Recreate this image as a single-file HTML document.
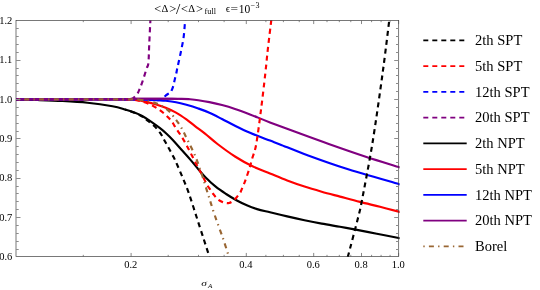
<!DOCTYPE html>
<html><head><meta charset="utf-8"><title>plot</title>
<style>html,body{margin:0;padding:0;background:#fff;}svg{display:block;font-family:"Liberation Serif",serif;will-change:transform;}</style></head>
<body>
<svg width="540" height="290" viewBox="0 0 540 290">
<rect width="540" height="290" fill="#fff"/>
<defs><clipPath id="c"><rect x="15.50" y="20.25" width="384.10" height="236.70"/></clipPath></defs>
<g clip-path="url(#c)" fill="none" stroke-width="2.15" stroke-linejoin="round">
<path d="M16.00 99.60 C19.58 99.67 29.75 99.78 37.50 100.00 C45.25 100.22 54.17 100.45 62.50 100.90 C70.83 101.35 79.17 101.80 87.50 102.70 C95.83 103.60 106.25 105.17 112.50 106.30 C118.75 107.43 121.25 108.42 125.00 109.50 C128.75 110.58 132.13 111.72 135.00 112.80 C137.87 113.88 139.53 114.53 142.20 116.00 C144.87 117.47 148.03 119.57 151.00 121.60 C153.97 123.63 157.50 126.25 160.00 128.20 C162.50 130.15 163.87 131.33 166.00 133.30 C168.13 135.27 170.22 137.25 172.80 140.00 C175.38 142.75 178.58 146.53 181.50 149.80 C184.42 153.07 187.45 156.32 190.30 159.60 C193.15 162.88 196.08 166.57 198.60 169.50 C201.12 172.43 202.55 174.33 205.40 177.20 C208.25 180.07 212.25 183.90 215.70 186.70 C219.15 189.50 222.65 191.75 226.10 194.00 C229.55 196.25 232.95 198.33 236.40 200.20 C239.85 202.07 243.35 203.72 246.80 205.20 C250.25 206.68 253.23 207.92 257.10 209.10 C260.97 210.28 264.98 211.08 270.00 212.30 C275.02 213.52 281.45 215.08 287.20 216.40 C292.95 217.72 298.75 219.00 304.50 220.20 C310.25 221.40 315.78 222.50 321.70 223.60 C327.62 224.70 334.55 225.83 340.00 226.80 C345.45 227.77 348.27 228.25 354.40 229.40 C360.53 230.55 369.42 232.27 376.80 233.70 C384.18 235.13 394.80 237.23 398.70 238.00 C402.60 238.77 399.95 238.25 400.20 238.30" stroke="#000"/>
<path d="M16.00 99.35 C33.33 99.35 100.17 99.27 120.00 99.35 C139.83 99.42 130.83 99.42 135.00 99.80 C139.17 100.17 141.62 100.87 145.00 101.60 C148.38 102.33 151.85 103.17 155.30 104.20 C158.75 105.23 162.25 106.40 165.70 107.80 C169.15 109.20 172.55 110.67 176.00 112.60 C179.45 114.53 183.23 117.15 186.40 119.40 C189.57 121.65 191.90 123.73 195.00 126.10 C198.10 128.47 201.25 130.62 205.00 133.60 C208.75 136.58 212.50 140.18 217.50 144.00 C222.50 147.82 229.17 152.78 235.00 156.50 C240.83 160.22 246.67 163.47 252.50 166.30 C258.33 169.13 264.22 171.13 270.00 173.50 C275.78 175.87 281.45 178.32 287.20 180.50 C292.95 182.68 298.75 184.73 304.50 186.60 C310.25 188.47 315.78 190.03 321.70 191.70 C327.62 193.37 333.62 194.90 340.00 196.60 C346.38 198.30 353.33 200.20 360.00 201.90 C366.67 203.60 373.55 205.18 380.00 206.80 C386.45 208.42 395.33 210.74 398.70 211.60 C402.07 212.46 399.95 211.89 400.20 211.95" stroke="#ff0000"/>
<path d="M16.00 99.35 C34.67 99.35 107.33 99.32 128.00 99.35 C148.67 99.38 136.33 99.46 140.00 99.55 C143.67 99.64 147.00 99.78 150.00 99.90 C153.00 100.03 155.38 100.16 158.00 100.30 C160.62 100.44 162.70 100.43 165.70 100.75 C168.70 101.07 172.55 101.53 176.00 102.20 C179.45 102.88 182.68 103.75 186.40 104.80 C190.12 105.85 194.47 107.18 198.30 108.50 C202.13 109.82 205.45 110.95 209.40 112.70 C213.35 114.45 217.73 116.82 222.00 119.00 C226.27 121.18 230.33 123.50 235.00 125.80 C239.67 128.10 244.17 130.33 250.00 132.80 C255.83 135.27 265.00 138.67 270.00 140.60 C275.00 142.53 273.75 141.96 280.00 144.40 C286.25 146.84 296.67 151.28 307.50 155.25 C318.33 159.22 329.80 163.46 345.00 168.25 C360.20 173.04 389.50 181.31 398.70 184.00 C407.90 186.69 399.95 184.33 400.20 184.40" stroke="#0000ff"/>
<path d="M16.00 99.35 C33.33 99.35 100.00 99.44 120.00 99.35 C140.00 99.26 129.33 98.90 136.00 98.80 C142.67 98.70 152.38 98.74 160.00 98.75 C167.62 98.76 176.70 98.76 181.70 98.85 C186.70 98.94 187.23 99.07 190.00 99.30 C192.77 99.53 195.07 99.73 198.30 100.20 C201.53 100.67 205.45 101.30 209.40 102.10 C213.35 102.90 217.73 103.87 222.00 105.00 C226.27 106.13 230.33 107.33 235.00 108.90 C239.67 110.47 244.17 112.15 250.00 114.40 C255.83 116.65 261.67 119.20 270.00 122.40 C278.33 125.60 290.21 130.00 300.00 133.60 C309.79 137.20 317.92 140.18 328.75 144.00 C339.58 147.82 353.34 152.67 365.00 156.50 C376.66 160.33 392.83 165.18 398.70 167.00 C404.57 168.82 399.95 167.38 400.20 167.45" stroke="#800080"/>
<path d="M125.00 109.50 C126.67 110.08 132.13 111.82 135.00 113.00 C137.87 114.18 140.20 115.42 142.20 116.60 C144.20 117.78 145.03 118.57 147.00 120.10 C148.97 121.63 151.75 123.58 154.00 125.80 C156.25 128.02 158.68 130.83 160.50 133.40 C162.32 135.97 163.47 138.63 164.90 141.20 C166.33 143.77 167.70 146.25 169.10 148.80 C170.50 151.35 171.92 153.75 173.30 156.50 C174.68 159.25 175.78 161.63 177.40 165.30 C179.02 168.97 181.11 173.88 183.00 178.50 C184.89 183.12 186.54 186.75 188.75 193.00 C190.96 199.25 193.76 208.33 196.25 216.00 C198.74 223.67 201.49 232.17 203.70 239.00 C205.91 245.83 208.53 254.00 209.50 257.00" stroke="#000" stroke-dasharray="5 4" stroke-dashoffset="3.45"/>
<path d="M347.80 257.00 C349.58 250.17 356.13 225.50 358.50 216.00 C360.87 206.50 359.70 212.00 362.00 200.00 C364.30 188.00 368.88 165.00 372.30 144.00 C375.72 123.00 379.67 94.67 382.50 74.00 C385.33 53.33 388.17 29.00 389.30 20.00" stroke="#000" stroke-dasharray="5 4" stroke-dashoffset="0.20"/>
<path d="M122.00 99.35 C122.83 99.35 124.83 99.26 127.00 99.35 C129.17 99.44 132.50 99.56 135.00 99.90 C137.50 100.24 139.55 100.68 142.00 101.40 C144.45 102.12 147.05 102.95 149.70 104.20 C152.35 105.45 155.32 107.18 157.90 108.90 C160.48 110.62 162.95 112.48 165.20 114.50 C167.45 116.52 169.60 118.70 171.40 121.00 C173.20 123.30 174.37 125.80 176.00 128.30 C177.63 130.80 179.58 133.45 181.20 136.00 C182.82 138.55 184.27 141.03 185.70 143.60 C187.13 146.17 188.42 148.73 189.80 151.40 C191.18 154.07 192.62 156.93 194.00 159.60 C195.38 162.27 196.60 164.53 198.10 167.40 C199.60 170.27 201.48 173.87 203.00 176.80 C204.52 179.73 205.98 182.85 207.20 185.00 C208.42 187.15 209.20 188.08 210.30 189.70 C211.40 191.32 212.65 193.18 213.80 194.70 C214.95 196.22 215.77 197.58 217.20 198.80 C218.63 200.02 220.93 201.30 222.40 202.00 C223.87 202.70 224.90 202.83 226.00 203.00 C227.10 203.17 227.92 203.28 229.00 203.00 C230.08 202.72 231.22 202.27 232.50 201.30 C233.78 200.33 235.37 198.73 236.70 197.20 C238.03 195.67 239.48 193.87 240.50 192.10 C241.52 190.33 242.02 188.47 242.80 186.60 C243.58 184.73 244.13 183.82 245.20 180.90 C246.27 177.98 247.98 173.00 249.20 169.10 C250.42 165.20 251.32 161.68 252.50 157.50 C253.68 153.32 254.83 151.95 256.25 144.00 C257.67 136.05 259.49 121.53 261.00 109.80 C262.51 98.07 264.17 83.65 265.30 73.60 C266.43 63.55 266.80 58.43 267.80 49.50 C268.80 40.57 270.72 24.92 271.30 20.00" stroke="#ff0000" stroke-dasharray="5 4" stroke-dashoffset="4.91"/>
<path d="M124.00 99.35 C124.67 99.35 125.33 99.32 128.00 99.35 C130.67 99.38 136.33 99.46 140.00 99.55 C143.67 99.64 147.00 99.79 150.00 99.90 C153.00 100.01 156.17 100.22 158.00 100.20 C159.83 100.18 160.17 100.07 161.00 99.80 C161.83 99.53 162.25 99.28 163.00 98.60 C163.75 97.92 164.30 96.73 165.50 95.70 C166.70 94.67 169.17 93.32 170.20 92.40 C171.23 91.48 171.18 91.28 171.70 90.20 C172.22 89.12 172.90 87.20 173.30 85.90 C173.70 84.60 173.77 83.85 174.10 82.40 C174.43 80.95 174.95 78.63 175.30 77.20 C175.65 75.77 175.88 75.23 176.20 73.80 C176.52 72.37 176.83 70.35 177.20 68.60 C177.57 66.85 177.77 66.20 178.40 63.30 C179.03 60.40 180.13 55.52 181.00 51.20 C181.87 46.88 182.97 41.85 183.60 37.40 C184.23 32.95 184.53 27.40 184.80 24.50 C185.07 21.60 185.13 20.75 185.20 20.00" stroke="#0000ff" stroke-dasharray="5 4" stroke-dashoffset="2.95"/>
<path d="M128.00 98.95 C129.33 98.92 130.67 98.83 136.00 98.80 C141.33 98.77 154.00 98.75 160.00 98.75 C166.00 98.75 169.00 98.79 172.00 98.80 C175.00 98.81 177.00 98.83 178.00 98.83" stroke="#800080" stroke-width="1.9"/>
<path d="M16.00 99.35 C34.33 99.35 107.00 99.41 126.00 99.35 C145.00 99.29 128.92 99.16 130.00 99.00 C131.08 98.84 131.75 98.73 132.50 98.40 C133.25 98.07 133.68 97.78 134.50 97.00 C135.32 96.22 136.55 95.03 137.40 93.70 C138.25 92.37 138.80 90.88 139.60 89.00 C140.40 87.12 141.03 85.80 142.20 82.40 C143.37 79.00 145.57 71.83 146.60 68.60 C147.63 65.37 147.97 66.93 148.40 63.00 C148.83 59.07 148.87 52.17 149.20 45.00 C149.53 37.83 150.20 24.17 150.40 20.00" stroke="#800080" stroke-dasharray="5 4" stroke-dashoffset="0.52"/>
<path d="M16.00 99.35 C35.00 99.35 109.33 99.26 130.00 99.35 C150.67 99.44 136.83 99.58 140.00 99.90 C143.17 100.23 146.10 100.67 149.00 101.30 C151.90 101.93 154.98 102.75 157.40 103.70 C159.82 104.65 161.52 105.72 163.50 107.00 C165.48 108.28 167.55 109.72 169.30 111.40 C171.05 113.08 172.53 115.22 174.00 117.10 C175.47 118.98 176.73 120.67 178.10 122.70 C179.47 124.73 181.00 127.17 182.20 129.30 C183.40 131.43 184.23 133.37 185.30 135.50 C186.37 137.63 187.50 139.88 188.60 142.10 C189.70 144.32 190.83 146.57 191.90 148.80 C192.97 151.03 194.05 153.27 195.00 155.50 C195.95 157.73 196.80 159.95 197.60 162.20 C198.40 164.45 198.98 166.62 199.80 169.00 C200.62 171.38 201.01 171.92 202.50 176.50 C203.99 181.08 206.67 189.92 208.75 196.50 C210.83 203.08 212.62 209.02 215.00 216.00 C217.38 222.98 220.67 231.57 223.00 238.40 C225.33 245.23 228.00 253.90 229.00 257.00" stroke="#996633" stroke-dasharray="5 4.2 1.4 4.2" stroke-dashoffset="6.5"/>
</g>
<g stroke="#3a3a3a" stroke-width="0.68" fill="none">
<rect x="16.00" y="20.55" width="382.70" height="235.90"/>
</g><g stroke="#8c8c8c" stroke-width="1" fill="none">
<path d="M16.00 249.50h2.70M398.70 249.50h-2.70M16.00 241.50h2.70M398.70 241.50h-2.70M16.00 233.50h2.70M398.70 233.50h-2.70M16.00 225.50h2.70M398.70 225.50h-2.70M16.00 217.50h4.50M398.70 217.50h-4.50M16.00 209.50h2.70M398.70 209.50h-2.70M16.00 201.50h2.70M398.70 201.50h-2.70M16.00 193.50h2.70M398.70 193.50h-2.70M16.00 186.50h2.70M398.70 186.50h-2.70M16.00 178.50h4.50M398.70 178.50h-4.50M16.00 170.50h2.70M398.70 170.50h-2.70M16.00 162.50h2.70M398.70 162.50h-2.70M16.00 154.50h2.70M398.70 154.50h-2.70M16.00 146.50h2.70M398.70 146.50h-2.70M16.00 138.50h4.50M398.70 138.50h-4.50M16.00 131.50h2.70M398.70 131.50h-2.70M16.00 123.50h2.70M398.70 123.50h-2.70M16.00 115.50h2.70M398.70 115.50h-2.70M16.00 107.50h2.70M398.70 107.50h-2.70M16.00 99.50h4.50M398.70 99.50h-4.50M16.00 91.50h2.70M398.70 91.50h-2.70M16.00 83.50h2.70M398.70 83.50h-2.70M16.00 75.50h2.70M398.70 75.50h-2.70M16.00 68.50h2.70M398.70 68.50h-2.70M16.00 60.50h4.50M398.70 60.50h-4.50M16.00 52.50h2.70M398.70 52.50h-2.70M16.00 44.50h2.70M398.70 44.50h-2.70M16.00 36.50h2.70M398.70 36.50h-2.70M16.00 28.50h2.70M398.70 28.50h-2.70"/>
<path d="M83.29 256.45v-1.60M83.29 20.55v1.60M131.10 256.45v-3.50M131.10 20.55v3.50M168.19 256.45v-1.60M168.19 20.55v1.60M198.49 256.45v-1.60M198.49 20.55v1.60M224.11 256.45v-1.60M224.11 20.55v1.60M246.31 256.45v-3.50M246.31 20.55v3.50M265.88 256.45v-1.60M265.88 20.55v1.60M283.40 256.45v-1.60M283.40 20.55v1.60M299.24 256.45v-1.60M299.24 20.55v1.60M313.70 256.45v-3.50M313.70 20.55v3.50M327.00 256.45v-1.60M327.00 20.55v1.60M339.32 256.45v-1.60M339.32 20.55v1.60M350.79 256.45v-1.60M350.79 20.55v1.60M361.51 256.45v-3.50M361.51 20.55v3.50M371.59 256.45v-1.60M371.59 20.55v1.60M381.09 256.45v-1.60M381.09 20.55v1.60M390.07 256.45v-1.60M390.07 20.55v1.60M398.60 256.45v-3.50M398.60 20.55v3.50" stroke="#555" stroke-width="0.7"/>
</g>
<g font-size="10.5px" fill="#000">
<text x="12.3" y="260.00" text-anchor="end">0.6</text>
<text x="12.3" y="220.67" text-anchor="end">0.7</text>
<text x="12.3" y="181.33" text-anchor="end">0.8</text>
<text x="12.3" y="142.00" text-anchor="end">0.9</text>
<text x="12.3" y="102.67" text-anchor="end">1.0</text>
<text x="12.3" y="63.33" text-anchor="end">1.1</text>
<text x="12.3" y="24.00" text-anchor="end">1.2</text>
<text x="130.70" y="268.2" text-anchor="middle">0.2</text>
<text x="245.91" y="268.2" text-anchor="middle">0.4</text>
<text x="313.30" y="268.2" text-anchor="middle">0.6</text>
<text x="361.11" y="268.2" text-anchor="middle">0.8</text>
<text x="398.20" y="268.2" text-anchor="middle">1.0</text>
</g>
<text transform="translate(201.2 285.9) scale(1.2 0.95)" font-size="9.6px" font-style="italic">σ</text>
<text x="207.9" y="287.9" font-size="7px" font-style="italic">A</text>
<text transform="translate(154.20 13.20) scale(1.080 1)" font-size="11.50px">&lt;</text>
<text transform="translate(161.50 12.30) scale(1.000 1)" font-size="10.50px">Δ</text>
<text transform="translate(169.20 13.20) scale(1.080 1)" font-size="11.50px">&gt;</text>
<text transform="translate(176.00 14.20) scale(1.100 1)" font-size="14.00px">/</text>
<text transform="translate(180.90 13.20) scale(1.080 1)" font-size="11.50px">&lt;</text>
<text transform="translate(188.20 12.30) scale(1.000 1)" font-size="10.50px">Δ</text>
<text transform="translate(195.90 13.20) scale(1.080 1)" font-size="11.50px">&gt;</text>
<text transform="translate(204.60 13.60) scale(1.080 1)" font-size="7.60px">full</text>
<text transform="translate(225.70 12.30) scale(1.000 1)" font-size="11.00px">ϵ</text>
<text transform="translate(230.50 12.30) scale(1.220 1)" font-size="11.00px">=</text>
<text transform="translate(238.80 12.50) scale(1.000 1)" font-size="11.50px">10</text>
<text transform="translate(250.40 7.90) scale(1.000 1)" font-size="8.00px">−</text>
<text transform="translate(255.40 8.10) scale(1.000 1)" font-size="8.00px">3</text>
<path d="M423.3 40.40H466.7" stroke="#000" stroke-width="1.70" fill="none" stroke-dasharray="5 4"/>
<text x="475.1" y="45.00" font-size="14.5px">2th SPT</text>
<path d="M423.3 66.15H466.7" stroke="#ff0000" stroke-width="1.70" fill="none" stroke-dasharray="5 4"/>
<text x="475.1" y="70.75" font-size="14.5px">5th SPT</text>
<path d="M423.3 91.90H466.7" stroke="#0000ff" stroke-width="1.70" fill="none" stroke-dasharray="5 4"/>
<text x="475.1" y="96.50" font-size="14.5px">12th SPT</text>
<path d="M423.3 117.65H466.7" stroke="#800080" stroke-width="1.70" fill="none" stroke-dasharray="5 4"/>
<text x="475.1" y="122.25" font-size="14.5px">20th SPT</text>
<path d="M423.3 143.40H466.7" stroke="#000" stroke-width="1.70" fill="none"/>
<text x="475.1" y="148.00" font-size="14.5px">2th NPT</text>
<path d="M423.3 169.15H466.7" stroke="#ff0000" stroke-width="1.70" fill="none"/>
<text x="475.1" y="173.75" font-size="14.5px">5th NPT</text>
<path d="M423.3 194.90H466.7" stroke="#0000ff" stroke-width="1.70" fill="none"/>
<text x="475.1" y="199.50" font-size="14.5px">12th NPT</text>
<path d="M423.3 220.65H466.7" stroke="#800080" stroke-width="1.70" fill="none"/>
<text x="475.1" y="225.25" font-size="14.5px">20th NPT</text>
<path d="M423.3 246.40H466.7" stroke="#996633" stroke-width="1.70" fill="none" stroke-dasharray="1.4 4.2 5 4.2"/>
<text x="475.1" y="251.00" font-size="14.5px">Borel</text>
</svg></body></html>
